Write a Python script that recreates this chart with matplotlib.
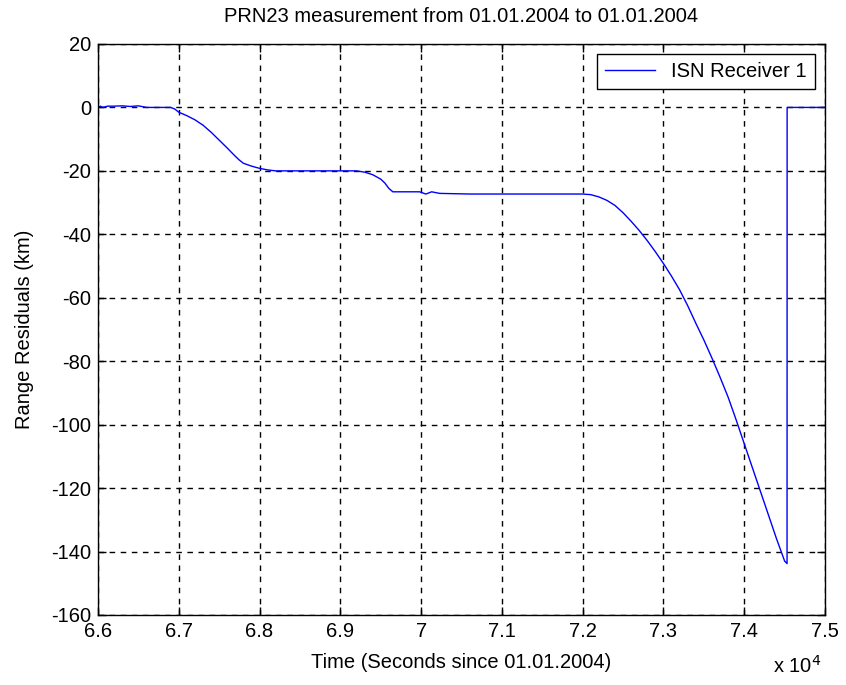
import matplotlib
matplotlib.use('Agg')
import matplotlib.pyplot as plt
from matplotlib.ticker import FuncFormatter, MultipleLocator

# Range residuals (time in seconds, residual in km)
time_s = [66000, 66030, 66060, 66120, 66200, 66300, 66400, 66500, 66600, 66900,
          66950, 67000, 67100, 67200, 67300, 67400, 67500, 67600, 67700, 67750,
          67800, 67900, 68000, 68100, 68200, 69200, 69300, 69400, 69500, 69550,
          69600, 69650, 69980, 70060, 70130, 70230, 70600, 71200, 72000, 72100,
          72200, 72300, 72400, 72500, 72600, 72700, 72800, 72900, 73000, 73100,
          73200, 73300, 73400, 73500, 73600, 73700, 73800, 73900, 74000, 74100,
          74200, 74300, 74400, 74500, 74530, 74531, 75000]
resid_km = [0.0, 0.4, 0.0, 0.4, 0.4, 0.5, 0.3, 0.5, 0.0, 0.0,
            -0.5, -1.5, -2.6, -3.9, -5.6, -7.8, -10.3, -12.8, -15.4, -16.6,
            -17.6, -18.5, -19.2, -19.7, -20.0, -20.0, -20.4, -21.2, -22.6, -23.8,
            -25.5, -26.6, -26.6, -27.3, -26.6, -27.1, -27.3, -27.3, -27.3, -27.5,
            -28.2, -29.3, -30.9, -33.2, -35.9, -38.8, -42.0, -45.5, -49.2, -53.2,
            -57.5, -62.5, -68.0, -73.3, -79.0, -85.0, -91.3, -98.5, -106.0, -113.5,
            -121.0, -128.5, -136.0, -143.0, -143.8, 0.0, 0.0]

x_ticks = list(range(66000, 75001, 1000))
y_min, y_max = -160, 20

plt.rcParams['font.family'] = ['Liberation Sans', 'DejaVu Sans']
plt.rcParams['font.size'] = 14.5
plt.rcParams['axes.unicode_minus'] = False

fig = plt.figure(figsize=(8.46, 6.85), dpi=100)
ax = fig.add_axes([0.1158, 0.1022, 0.8594, 0.8336])

ax.plot(time_s, resid_km, color='#0000ff', linewidth=1.0, label='ISN Receiver 1')

ax.set_xlim(66000, 75000)
ax.set_ylim(y_min, y_max)
ax.set_xticks(x_ticks)
ax.yaxis.set_major_locator(MultipleLocator(20))
ax.xaxis.set_major_formatter(FuncFormatter(lambda v, p: '%g' % (v / 1e4)))

ax.grid(True, color='black', linestyle=(0, (4, 4)), linewidth=1.0)
ax.tick_params(direction='in', length=6, width=1, top=True, right=True,
               labelsize=14.5, colors='black')
ax.tick_params(axis='x', pad=5)
ax.tick_params(axis='y', pad=5)
for s in ax.spines.values():
    s.set_linewidth(1.0)
    s.set_color('black')

ax.set_title('PRN23 measurement from 01.01.2004 to 01.01.2004', fontsize=14.5, pad=16)
ax.set_xlabel('Time (Seconds since 01.01.2004)', fontsize=14.5, labelpad=9)
ax.set_ylabel('Range Residuals (km)', fontsize=14.5)
ax.yaxis.set_label_coords(-0.088, 0.5)

leg = ax.legend(loc='upper right', fontsize=14.5, fancybox=False, framealpha=1,
                edgecolor='black', borderaxespad=0.5, handlelength=2.5,
                handletextpad=0.8, borderpad=0.4)
leg.get_frame().set_linewidth(1.0)

fig.text(0.971, 0.018, r'x 10$^4$', ha='right', va='baseline', fontsize=14.5)

fig.savefig('out.png', dpi=100)
